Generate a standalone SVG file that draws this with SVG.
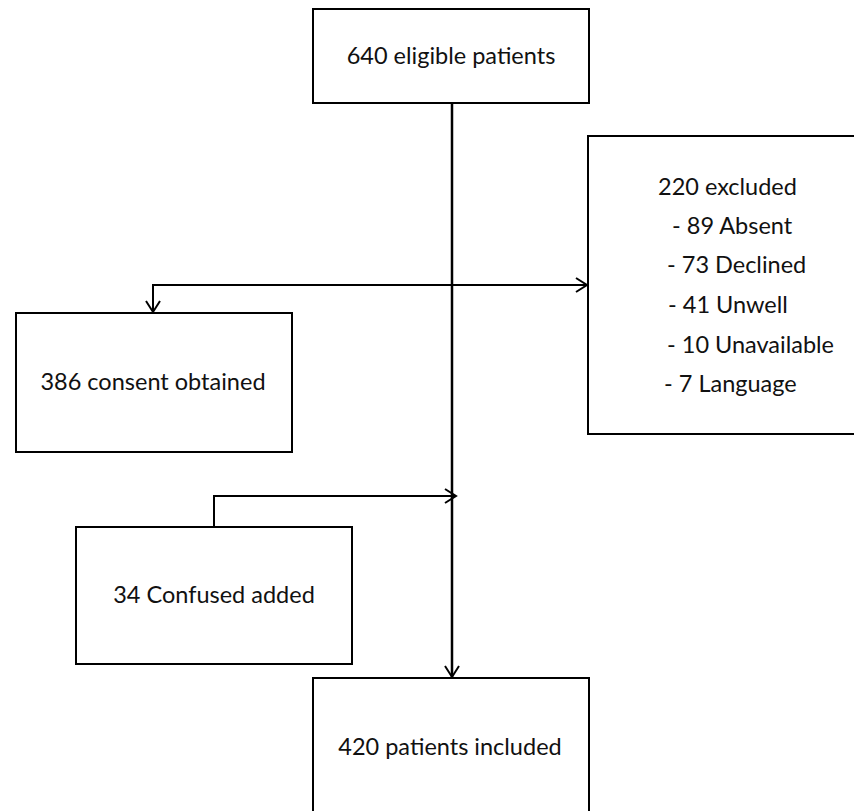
<svg xmlns="http://www.w3.org/2000/svg" width="854" height="811" viewBox="0 0 854 811">
<style>
.box{fill:#fff;stroke:#000;stroke-width:2}
.lbl{font-family:Lato,"Open Sans","Liberation Sans",sans-serif;font-size:23.5px;fill:#111}
.mid{text-anchor:middle}
.con{fill:none;stroke:#000;stroke-width:2}
</style>
<defs>
<marker id="arr" markerUnits="userSpaceOnUse" markerWidth="20" markerHeight="20" refX="12" refY="8" orient="auto" viewBox="0 0 20 16">
<path d="M1,1 L12,8 L1,15" fill="none" stroke="#000" stroke-width="2"/>
</marker>
</defs>
<rect width="854" height="811" fill="#fff"/>
<g id="connectors">
<line class="con" x1="452" y1="103" x2="452" y2="677" marker-end="url(#arr)" style="stroke-width:2.5"/>
<polyline class="con" points="452,285 153,285 153,312" marker-end="url(#arr)"/>
<line class="con" x1="452" y1="285" x2="587" y2="285" marker-end="url(#arr)"/>
<polyline class="con" points="214,527 214,496 456,496" marker-end="url(#arr)"/>
</g>
<g id="n1">
<rect class="box" x="313" y="9" width="276" height="94"/>
<text class="lbl mid" x="451" y="64">640 eligible patients</text>
</g>
<g id="n2">
<rect class="box" x="16" y="313" width="276" height="139"/>
<text class="lbl mid" x="153" y="390">386 consent obtained</text>
</g>
<g id="n3">
<rect class="box" x="588" y="136" width="280" height="298"/>
<text class="lbl" x="658" y="195">220 excluded</text>
<text class="lbl" x="672" y="234">- 89 Absent</text>
<text class="lbl" x="667" y="273">- 73 Declined</text>
<text class="lbl" x="668" y="313">- 41 Unwell</text>
<text class="lbl" x="667" y="353">- 10 Unavailable</text>
<text class="lbl" x="664" y="392">- 7 Language</text>
</g>
<g id="n4">
<rect class="box" x="76" y="527" width="276" height="137"/>
<text class="lbl mid" x="214" y="603">34 Confused added</text>
</g>
<g id="n5">
<rect class="box" x="313" y="678" width="276" height="150"/>
<text class="lbl mid" x="450" y="755">420 patients included</text>
</g>
</svg>
